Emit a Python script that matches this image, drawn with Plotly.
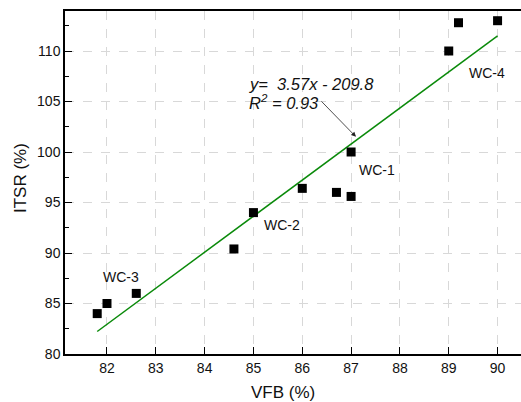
import plotly.graph_objects as go

# Data
vfb = [81.8, 82.0, 82.6, 84.6, 85.0, 86.0, 86.7, 87.0, 87.0, 89.0, 89.2, 90.0]
itsr = [84.0, 85.0, 86.0, 90.4, 94.0, 96.4, 96.0, 95.6, 100.0, 110.0, 112.8, 113.0]

fit_slope = 3.57
fit_intercept = -209.8
fit_x = [min(vfb), max(vfb)]
fit_y = [fit_slope * x + fit_intercept for x in fit_x]

label_text = ["WC-1", "WC-2", "WC-3", "WC-4"]
label_x = [87.12, 85.18, 81.88, 89.38]
label_y = [98.2, 92.75, 87.6, 107.8]

x_ticks = [82, 83, 84, 85, 86, 87, 88, 89, 90]
y_ticks = [80, 85, 90, 95, 100, 105, 110]

FONT = "Arial, Liberation Sans, sans-serif"

fig = go.Figure()
fig.add_trace(go.Scatter(x=fit_x, y=fit_y, mode="lines",
                         line=dict(color="#0a8a0a", width=1.5), showlegend=False,
                         hoverinfo="skip"))
fig.add_trace(go.Scatter(x=vfb, y=itsr, mode="markers",
                         marker=dict(symbol="square", size=9, color="black"),
                         showlegend=False))

for t, x, y in zip(label_text, label_x, label_y):
    fig.add_annotation(x=x, y=y, text=t, showarrow=False, xanchor="left",
                       yanchor="middle", font=dict(family=FONT, size=14, color="#111"))

fig.add_annotation(x=84.87, y=106.7, text="<i>y=  3.57x - 209.8</i>", showarrow=False,
                   xanchor="left", yanchor="middle",
                   font=dict(family=FONT, size=16.5, color="#111"))
fig.add_annotation(x=84.87, y=104.95, text="<i>R<sup>2</sup> = 0.93</i>", showarrow=False,
                   xanchor="left", yanchor="middle",
                   font=dict(family=FONT, size=16.5, color="#111"))
fig.add_annotation(x=87.1, y=101.5, text="", showarrow=True, ax=-36, ay=-37,
                   arrowhead=2, arrowsize=1.2, arrowwidth=0.8, arrowcolor="#222")

# axis titles as paper-anchored annotations
fig.add_annotation(x=(283 - 65) / 456, y=-(392 - 354) / 343, xref="paper", yref="paper",
                   text="VFB (%)", showarrow=False, xanchor="center", yanchor="middle",
                   font=dict(family=FONT, size=17, color="#111"))
fig.add_annotation(x=-(65 - 20) / 456, y=(354 - 178) / 343, xref="paper", yref="paper",
                   text="ITSR (%)", showarrow=False, xanchor="center", yanchor="middle",
                   textangle=-90, font=dict(family=FONT, size=17, color="#111"))

fig.update_xaxes(range=[81.14, 90.48], tickvals=x_ticks, ticks="inside", ticklen=7,
                 tickcolor="black", showline=True, linecolor="black", linewidth=1.5,
                 mirror=True, showgrid=True, gridcolor="#d8d8d8", griddash="dash",
                 gridwidth=1, zeroline=False, automargin=False,
                 tickfont=dict(family=FONT, size=14, color="#111"))
fig.update_yaxes(range=[80, 113.96], tickvals=y_ticks, ticks="inside", ticklen=7,
                 tickcolor="black", showline=True, linecolor="black", linewidth=1.5,
                 mirror=False, showgrid=True, gridcolor="#d8d8d8", griddash="dash",
                 gridwidth=1, zeroline=False, automargin=False,
                 minor=dict(tickvals=[82.5, 87.5, 92.5, 97.5, 102.5, 107.5, 112.5],
                            ticks="inside", ticklen=4, tickcolor="black", showgrid=False),
                 tickfont=dict(family=FONT, size=14, color="#111"))

fig.update_layout(width=521, height=402, margin=dict(l=65, r=0, t=11, b=48),
                  plot_bgcolor="white", paper_bgcolor="white")

fig.write_html("out.html", config={"displayModeBar": False},
               post_script="document.body.style.margin='0';document.body.style.overflow='hidden';")
